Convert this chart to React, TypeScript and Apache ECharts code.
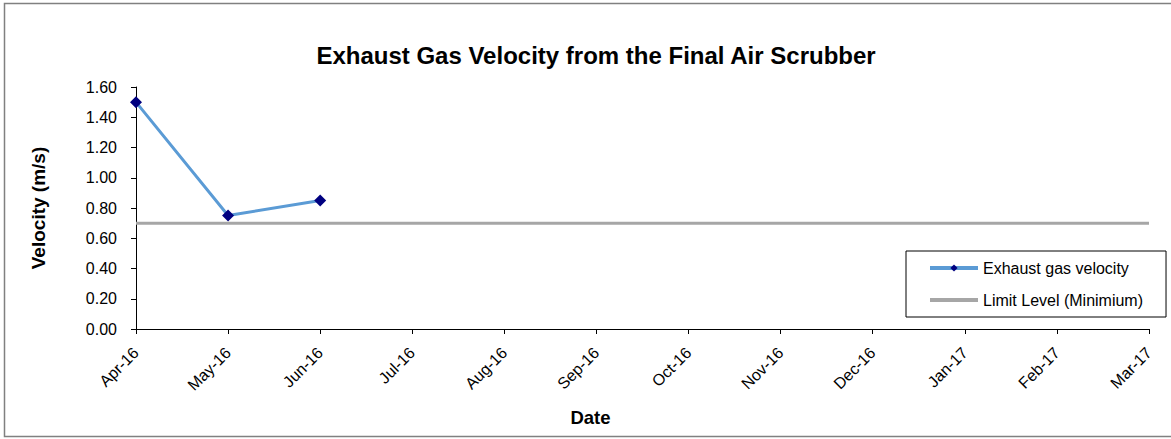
import React, { useEffect, useRef } from "react";
import * as echarts from "echarts";

const months = ["Apr-16", "May-16", "Jun-16", "Jul-16", "Aug-16", "Sep-16", "Oct-16", "Nov-16", "Dec-16", "Jan-17", "Feb-17", "Mar-17"];
const velocity: (number | null)[] = [1.5, 0.75, 0.85, null, null, null, null, null, null, null, null, null];
const limitLevel: number[] = [0.7, 0.7, 0.7, 0.7, 0.7, 0.7, 0.7, 0.7, 0.7, 0.7, 0.7, 0.7];

const FONT = "'Liberation Sans', Arial, sans-serif";

export default function App() {
  const ref = useRef<HTMLDivElement>(null);
  useEffect(() => {
    if (!ref.current) return;
    const chart = echarts.init(ref.current, null, { renderer: "svg" });
    chart.setOption({
      animation: false,
      backgroundColor: "#fff",
      textStyle: { fontFamily: FONT },
      title: {
        text: "Exhaust Gas Velocity from the Final Air Scrubber",
        left: 591,
        textAlign: "center",
        top: 38,
        textStyle: { fontFamily: FONT, fontSize: 24, fontWeight: "bold", color: "#000" },
      },
      graphic: [
        {
          type: "rect",
          shape: { x: 4.5, y: 3.5, width: 1180, height: 433 },
          style: { fill: "none", stroke: "#808080", lineWidth: 1.5 },
          silent: true,
        },
      ],
      legend: {
        orient: "vertical",
        left: 906,
        top: 251,
        padding: [9, 23, 9, 22],
        itemGap: 16,
        itemWidth: 48,
        itemHeight: 9,
        borderColor: "#000",
        borderWidth: 1,
        lineStyle: { width: 4 },
        textStyle: { fontFamily: FONT, fontSize: 16, color: "#000" },
        data: [
          { name: "Exhaust gas velocity" },
          { name: "Limit Level (Minimium)", itemStyle: { color: "rgba(0,0,0,0)", borderWidth: 0 } },
        ],
      },
      grid: { left: 136, right: 22, top: 87, bottom: 110, containLabel: false },
      xAxis: {
        type: "category",
        data: months,
        boundaryGap: false,
        name: "Date",
        nameLocation: "middle",
        nameGap: 79,
        nameTextStyle: { fontFamily: FONT, fontSize: 18.5, fontWeight: "bold", color: "#000", padding: [0, 104, 0, 0] },
        axisLine: { lineStyle: { color: "#000", width: 1 } },
        axisTick: { show: true, length: 5, lineStyle: { color: "#000" } },
        axisLabel: { rotate: 45, fontFamily: FONT, fontSize: 16, color: "#000", margin: 21 },
        splitLine: { show: false },
      },
      yAxis: {
        type: "value",
        min: 0,
        max: 1.6,
        interval: 0.2,
        name: "Velocity (m/s)",
        nameLocation: "middle",
        nameGap: 88,
        nameTextStyle: { fontFamily: FONT, fontSize: 19, fontWeight: "bold", color: "#000" },
        axisLine: { show: true, lineStyle: { color: "#000", width: 1 } },
        axisTick: { show: true, length: 5, lineStyle: { color: "#000" } },
        axisLabel: { fontFamily: FONT, fontSize: 16, color: "#000", margin: 19, formatter: (v: number) => v.toFixed(2) },
        splitLine: { show: false },
      },
      series: [
        {
          name: "Limit Level (Minimium)",
          type: "line",
          data: limitLevel,
          symbol: "none",
          lineStyle: { color: "#A6A6A6", width: 3 },
          itemStyle: { color: "#A6A6A6" },
          z: 2,
        },
        {
          name: "Exhaust gas velocity",
          type: "line",
          data: velocity,
          symbol: "diamond",
          symbolSize: 12,
          connectNulls: false,
          lineStyle: { color: "#5B9BD5", width: 3 },
          itemStyle: { color: "#000080" },
          z: 3,
        },
      ],
    });
    return () => chart.dispose();
  }, []);
  return <div ref={ref} style={{ position: "fixed", left: 0, top: 0, width: 1171, height: 439 }} />;
}
